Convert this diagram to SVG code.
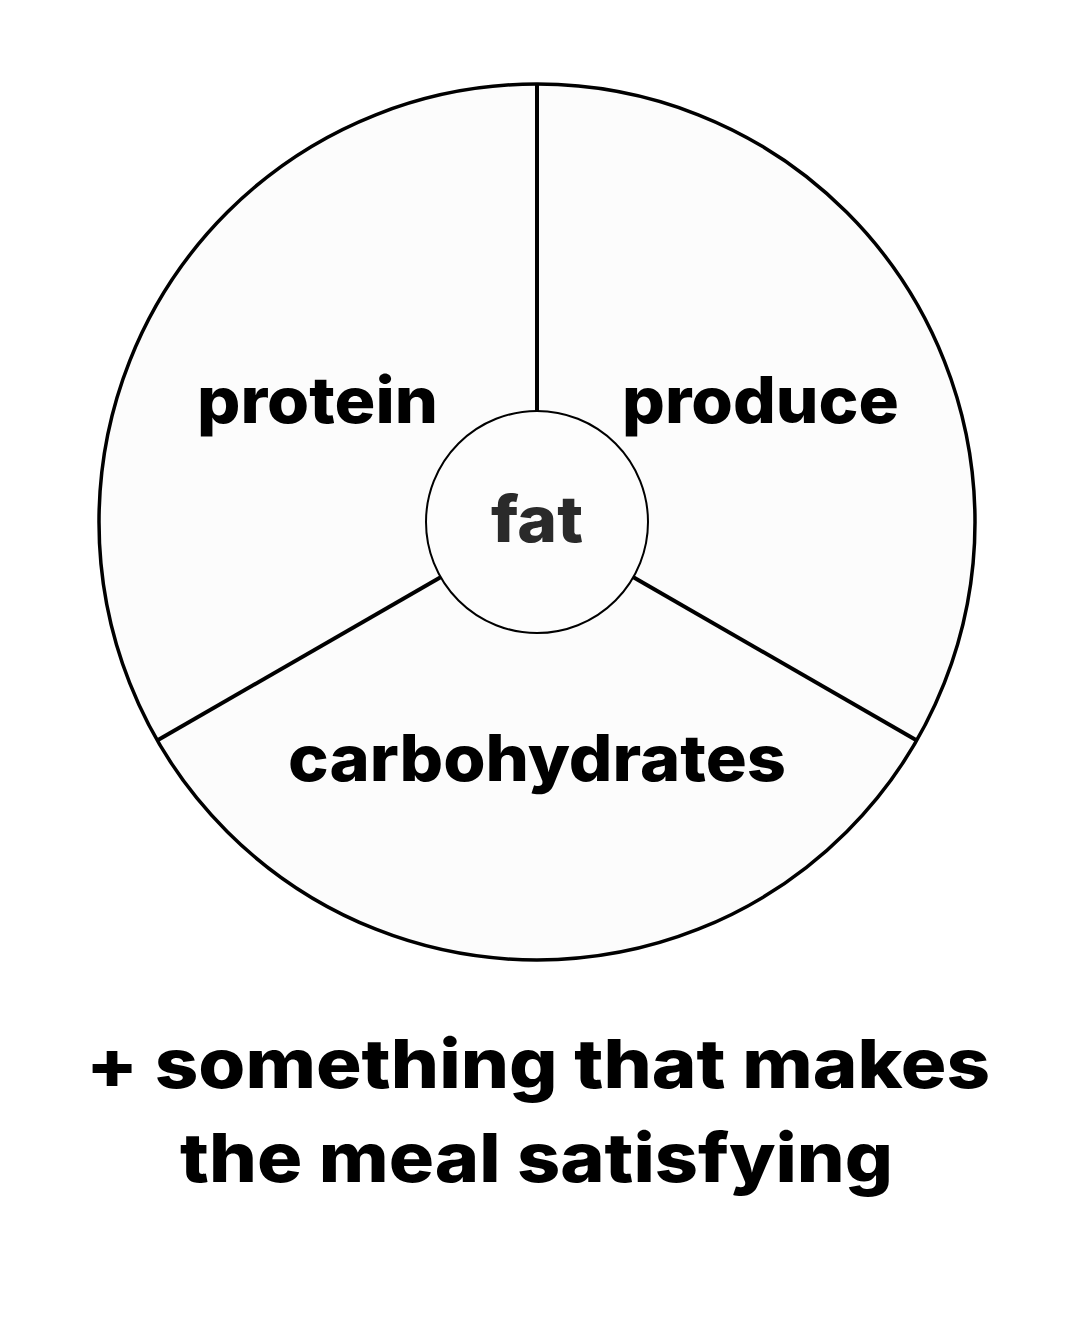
<svg xmlns="http://www.w3.org/2000/svg" width="1077" height="1317" viewBox="0 0 1077 1317">
<style>
.lbl{font-family:"Inter","DejaVu Sans","Liberation Sans",sans-serif;font-weight:800;font-size:64px;fill:#000}
.div{stroke:#000;stroke-width:4;fill:none}
</style>
<rect width="1077" height="1317" fill="#fff"/>
<g id="plate">
<circle cx="537" cy="522" r="438" fill="#fcfcfc" stroke="#000" stroke-width="3.5"/>
</g>
<g id="connectors">
<line class="div" x1="537" y1="85" x2="537" y2="411"/>
<line class="div" x1="158" y1="740" x2="441" y2="577"/>
<line class="div" x1="633" y1="577" x2="916" y2="740"/>
</g>
<g id="protein"><text class="lbl" x="197" y="423" textLength="241" lengthAdjust="spacingAndGlyphs">protein</text></g>
<g id="produce"><text class="lbl" x="622" y="423" textLength="277" lengthAdjust="spacingAndGlyphs">produce</text></g>
<g id="carbohydrates"><text class="lbl" x="288" y="781" textLength="498" lengthAdjust="spacingAndGlyphs">carbohydrates</text></g>
<g id="fat">
<circle cx="537" cy="522" r="111" fill="#fdfdfd" stroke="#000" stroke-width="2"/>
<text class="lbl" x="491" y="542" textLength="92" lengthAdjust="spacingAndGlyphs" style="fill:#2a2a2a">fat</text>
</g>
<g id="caption">
<text class="lbl" x="86" y="1088" textLength="904" lengthAdjust="spacingAndGlyphs" style="font-size:68px">+ something that makes</text>
<text class="lbl" x="180" y="1182" textLength="713" lengthAdjust="spacingAndGlyphs" style="font-size:68px">the meal satisfying</text>
</g>
</svg>
